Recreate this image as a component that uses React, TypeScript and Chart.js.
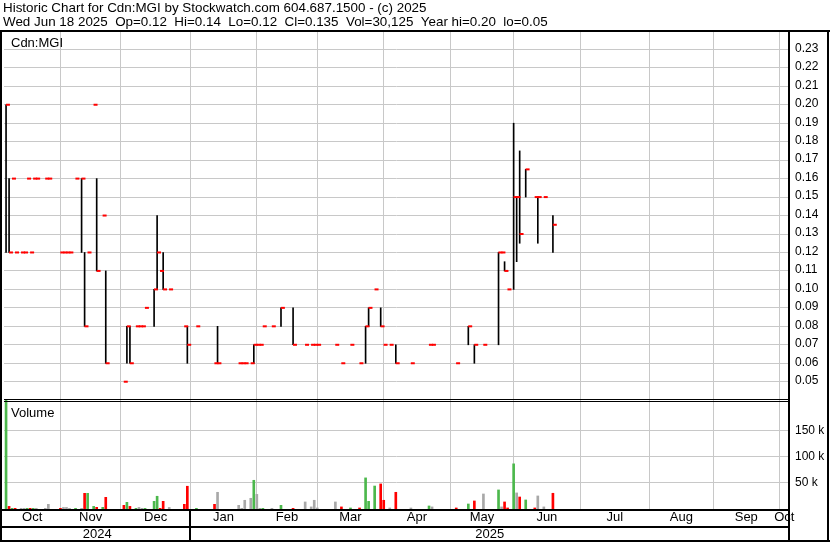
import React, { useEffect, useRef } from 'react';
import { Chart, registerables } from 'chart.js';

Chart.register(...registerables);

// ---------------- DATA ----------------
const dates = [
  '2024-10-08', '2024-10-09', '2024-10-10', '2024-10-11', '2024-10-15', '2024-10-16', '2024-10-17', '2024-10-18',
  '2024-10-21', '2024-10-22', '2024-10-25', '2024-10-28', '2024-11-01', '2024-11-04', '2024-11-05', '2024-11-06',
  '2024-11-08', '2024-11-12', '2024-11-13', '2024-11-14', '2024-11-18', '2024-11-19', '2024-11-21', '2024-11-22',
  '2024-12-02', '2024-12-03', '2024-12-04', '2024-12-06', '2024-12-09', '2024-12-10', '2024-12-11', '2024-12-16',
  '2024-12-17', '2024-12-18', '2024-12-19', '2024-12-23', '2024-12-30', '2024-12-31', '2025-01-03', '2025-01-13',
  '2025-01-14', '2025-01-23', '2025-01-24', '2025-01-27', '2025-01-29', '2025-01-30', '2025-01-31', '2025-02-03',
  '2025-02-04', '2025-02-07', '2025-02-12', '2025-02-18', '2025-02-24', '2025-02-26', '2025-02-27', '2025-02-28',
  '2025-03-10', '2025-03-12', '2025-03-17', '2025-03-20', '2025-03-24', '2025-03-25', '2025-03-27', '2025-03-31',
  '2025-04-01', '2025-04-03', '2025-04-07', '2025-04-14', '2025-04-22', '2025-04-23', '2025-05-05', '2025-05-09',
  '2025-05-13', '2025-05-16', '2025-05-23', '2025-05-26', '2025-05-27', '2025-05-28', '2025-05-30', '2025-06-02',
  '2025-06-03', '2025-06-05', '2025-06-10', '2025-06-11', '2025-06-13', '2025-06-18',
];
const highs = [
  0.20, 0.16, 0.16, 0.12, 0.12, 0.12, 0.16, 0.12,
  0.16, 0.16, 0.16, 0.16, 0.12, 0.12, 0.12, 0.12,
  0.16, 0.16, 0.12, 0.12, 0.20, 0.16, 0.14, 0.11,
  0.05, 0.08, 0.08, 0.08, 0.08, 0.08, 0.09, 0.10,
  0.14, 0.11, 0.12, 0.10, 0.08, 0.08, 0.08, 0.06,
  0.08, 0.06, 0.06, 0.06, 0.06, 0.07, 0.07, 0.07,
  0.08, 0.08, 0.09, 0.09, 0.07, 0.07, 0.07, 0.07,
  0.07, 0.06, 0.07, 0.06, 0.08, 0.09, 0.10, 0.09,
  0.07, 0.07, 0.07, 0.06, 0.07, 0.07, 0.06, 0.08,
  0.07, 0.07, 0.12, 0.12, 0.115, 0.10, 0.19, 0.15,
  0.175, 0.165, 0.15, 0.15, 0.15, 0.14,
];
const lows = [
  0.12, 0.12, 0.16, 0.12, 0.12, 0.12, 0.16, 0.12,
  0.16, 0.16, 0.16, 0.16, 0.12, 0.12, 0.12, 0.12,
  0.16, 0.12, 0.08, 0.12, 0.20, 0.11, 0.14, 0.06,
  0.05, 0.06, 0.06, 0.08, 0.08, 0.08, 0.09, 0.08,
  0.10, 0.11, 0.10, 0.10, 0.08, 0.06, 0.08, 0.06,
  0.06, 0.06, 0.06, 0.06, 0.06, 0.06, 0.07, 0.07,
  0.08, 0.08, 0.08, 0.07, 0.07, 0.07, 0.07, 0.07,
  0.07, 0.06, 0.07, 0.06, 0.06, 0.08, 0.10, 0.08,
  0.07, 0.07, 0.06, 0.06, 0.07, 0.07, 0.06, 0.07,
  0.06, 0.07, 0.07, 0.12, 0.11, 0.10, 0.10, 0.115,
  0.125, 0.15, 0.15, 0.125, 0.15, 0.12,
];
const closes = [
  0.20, 0.12, 0.16, 0.12, 0.12, 0.12, 0.16, 0.12,
  0.16, 0.16, 0.16, 0.16, 0.12, 0.12, 0.12, 0.12,
  0.16, 0.16, 0.08, 0.12, 0.20, 0.11, 0.14, 0.06,
  0.05, 0.08, 0.06, 0.08, 0.08, 0.08, 0.09, 0.10,
  0.12, 0.11, 0.10, 0.10, 0.08, 0.07, 0.08, 0.06,
  0.06, 0.06, 0.06, 0.06, 0.06, 0.07, 0.07, 0.07,
  0.08, 0.08, 0.09, 0.07, 0.07, 0.07, 0.07, 0.07,
  0.07, 0.06, 0.07, 0.06, 0.08, 0.09, 0.10, 0.08,
  0.07, 0.07, 0.06, 0.06, 0.07, 0.07, 0.06, 0.08,
  0.07, 0.07, 0.12, 0.12, 0.11, 0.10, 0.15, 0.15,
  0.13, 0.165, 0.15, 0.15, 0.15, 0.135,
];
const volumes = [
  260000, 5000, 1300, 1300, 1300, 1300, 1300, 1300,
  1300, 1300, 1300, 9000, 1300, 3000, 3000, 1300,
  1300, 1300, 30000, 30000, 5000, 3200, 3200, 22400,
  7000, 12800, 5000, 1300, 3000, 1300, 1300, 14700,
  24400, 1300, 14700, 3000, 9000, 43600, 1300, 9000,
  32000, 7000, 1300, 16700, 20500, 55000, 28000, 1300,
  1300, 1300, 7000, 1300, 13500, 4000, 16700, 2000,
  13500, 4000, 2000, 2000, 59600, 14700, 44000, 48000,
  16700, 2000, 32000, 2000, 5800, 4000, 2000, 9600,
  15400, 28800, 36500, 4000, 13500, 2000, 86500, 30800,
  23000, 17300, 2000, 25000, 4000, 30125,
];

const priceTicks = [0.05, 0.06, 0.07, 0.08, 0.09, 0.10, 0.11, 0.12, 0.13, 0.14, 0.15, 0.16, 0.17, 0.18, 0.19, 0.20, 0.21, 0.22, 0.23];
const volumeTicks = [50000, 100000, 150000];
const monthStarts = [
  '2024-10-01', '2024-11-01', '2024-12-01', '2025-01-01', '2025-02-01', '2025-03-01', '2025-04-01',
  '2025-05-01', '2025-06-01', '2025-07-01', '2025-08-01', '2025-09-01', '2025-10-01', '2025-11-01',
];
const monthLabels = ['Oct', 'Nov', 'Dec', 'Jan', 'Feb', 'Mar', 'Apr', 'May', 'Jun', 'Jul', 'Aug', 'Sep', 'Oct'];
const yearBreaks = ['2025-01-01'];
const yearLabels = ['2024', '2025'];

const titleLines = [
  'Historic Chart for Cdn:MGI by Stockwatch.com 604.687.1500 - (c) 2025',
  'Wed Jun 18 2025  Op=0.12  Hi=0.14  Lo=0.12  Cl=0.135  Vol=30,125  Year hi=0.20  lo=0.05',
];
const symbolLabel = 'Cdn:MGI';
const volumeLabel = 'Volume';

// ---------------- VIEW SETTINGS ----------------
const X_MIN = 4.32;
const X_MAX = 264.14;
const CLOSE_TICK_OFFSET = 0.62;
const FONT = 'Arial, "Liberation Sans", sans-serif';
const GRID = '#c8c8c8';
const UP = '#4cb84c';
const DOWN = '#ff0000';
const FLAT = '#a8a8a8';

// weekday index counted from 2024-10-01; weekend dates fall back to the previous Friday
function weekdayIndex(s: string): number {
  const origin = Date.UTC(2024, 9, 1);
  const [y, m, d] = s.split('-').map(Number);
  const t = Date.UTC(y, m - 1, d);
  let count = 0;
  for (let u = origin; u <= t; u += 86400000) {
    const wd = new Date(u).getUTCDay();
    if (wd !== 0 && wd !== 6) count++;
  }
  return count - 1;
}

const xs = dates.map(weekdayIndex);
const monthBounds = monthStarts.map(weekdayIndex);
const gridTicks = monthBounds.filter((v) => v > X_MIN && v < X_MAX);
const monthCenters = monthLabels.map((_, i) => {
  const a = Math.max(monthBounds[i], X_MIN);
  const b = Math.min(monthBounds[i + 1], X_MAX);
  return (a + b) / 2;
});
const yearBounds = [X_MIN, ...yearBreaks.map(weekdayIndex), X_MAX];
const yearCenters = yearLabels.map((_, i) => (yearBounds[i] + yearBounds[i + 1]) / 2);

const volColors = closes.map((c, i) => (i === 0 ? UP : c > closes[i - 1] ? UP : c < closes[i - 1] ? DOWN : FLAT));

const clipVolume = {
  id: 'clipVolume',
  beforeDatasetDraw(chart: any, args: any) {
    if (args.meta.yAxisID !== 'yv') return;
    const s = chart.scales.yv;
    const a = chart.chartArea;
    const ctx = chart.ctx;
    ctx.save();
    ctx.beginPath();
    ctx.rect(a.left, s.top, a.right - a.left, s.bottom - s.top);
    ctx.clip();
  },
  afterDatasetDraw(chart: any, args: any) {
    if (args.meta.yAxisID !== 'yv') return;
    chart.ctx.restore();
  },
};

const frame = {
  id: 'frame',
  afterDraw(chart: any) {
    const ctx = chart.ctx;
    const a = chart.chartArea;
    const W = chart.width;
    const H = chart.height;
    const top = a.top - 2;
    ctx.save();
    ctx.fillStyle = '#000';
    ctx.fillRect(0, top, W, 2);
    ctx.fillRect(0, top, 2, H - top - 1);
    ctx.fillRect(W - 3, top, 2, H - top - 1);
    ctx.fillRect(a.right - 1, top, 2, H - top - 1);
    const pb = chart.scales.y.bottom;
    ctx.fillRect(a.left, pb - 1, a.right - a.left, 1);
    ctx.fillRect(a.left, pb + 1, a.right - a.left, 1);
    ctx.fillRect(0, a.bottom, a.right, 2);
    ctx.fillRect(0, chart.scales.xy.top, a.right, 2);
    ctx.fillRect(0, H - 3, W, 2);
    yearBreaks.forEach((d) => {
      const px = Math.round(chart.scales.x.getPixelForValue(weekdayIndex(d)));
      ctx.fillRect(px - 1, a.bottom, 2, H - a.bottom - 2);
    });
    ctx.font = `13px ${FONT}`;
    ctx.textBaseline = 'alphabetic';
    ctx.textAlign = 'left';
    ctx.fillText(symbolLabel, a.left + 7, chart.scales.y.top + 15);
    ctx.fillText(volumeLabel, a.left + 7, chart.scales.yv.top + 17);
    ctx.restore();
  },
};

export default function App() {
  const ref = useRef<HTMLCanvasElement>(null);
  useEffect(() => {
    document.body.style.margin = '0';
    Chart.defaults.font.family = FONT;
    Chart.defaults.color = '#000';
    const hl = xs
      .map((x, i) => ({ x, y: [lows[i], highs[i]] }))
      .filter((p) => p.y[1] > p.y[0]);
    const chart = new Chart(ref.current as HTMLCanvasElement, {
      type: 'bar',
      data: {
        datasets: [
          {
            type: 'bar',
            data: hl as any,
            xAxisID: 'x',
            yAxisID: 'y',
            backgroundColor: '#000',
            borderWidth: 0,
            barThickness: 1,
            grouped: false,
            order: 2,
          } as any,
          {
            type: 'scatter',
            data: xs.map((x, i) => ({ x: x + CLOSE_TICK_OFFSET, y: closes[i] })),
            xAxisID: 'x',
            yAxisID: 'y',
            pointStyle: 'line',
            pointRadius: 2,
            pointHoverRadius: 2,
            pointBorderWidth: 2,
            pointBorderColor: '#ff0000',
            borderColor: '#ff0000',
            showLine: false,
            order: 1,
          } as any,
          {
            type: 'bar',
            data: xs.map((x, i) => ({ x, y: volumes[i] })),
            xAxisID: 'x',
            yAxisID: 'yv',
            backgroundColor: volColors,
            borderWidth: 0,
            barThickness: 2,
            grouped: false,
            order: 3,
          } as any,
        ],
      },
      options: {
        animation: false,
        responsive: false,
        devicePixelRatio: 1,
        events: [],
        layout: { padding: { left: 3, right: 0, top: 0, bottom: 0 } },
        plugins: {
          legend: { display: false },
          tooltip: { enabled: false },
          title: {
            display: true,
            align: 'start',
            text: titleLines,
            color: '#000',
            font: { size: 13.4, weight: 'normal', lineHeight: '14px', family: FONT },
            padding: { top: 1, bottom: 3 },
          },
        },
        scales: {
          x: {
            type: 'linear',
            position: 'bottom',
            min: X_MIN,
            max: X_MAX,
            offset: false,
            grid: { display: true, color: GRID, lineWidth: 1, drawTicks: false, offset: false },
            border: { display: false },
            ticks: { display: false },
            afterBuildTicks: (s: any) => { s.ticks = gridTicks.map((v) => ({ value: v })); },
            afterFit: (s: any) => { s.height = 0; },
          },
          xm: {
            type: 'linear',
            position: 'bottom',
            min: X_MIN,
            max: X_MAX,
            offset: false,
            grid: { display: false, drawTicks: false, offset: false },
            border: { display: false },
            ticks: {
              autoSkip: false,
              maxRotation: 0,
              padding: 1,
              color: '#000',
              font: { size: 13, family: FONT },
              callback: (_v: any, i: number) => monthLabels[i],
            },
            afterBuildTicks: (s: any) => { s.ticks = monthCenters.map((v) => ({ value: v })); },
            afterFit: (s: any) => { s.height = 17; },
          },
          xy: {
            type: 'linear',
            position: 'bottom',
            min: X_MIN,
            max: X_MAX,
            offset: false,
            grid: { display: false, drawTicks: false, offset: false },
            border: { display: false },
            ticks: {
              autoSkip: false,
              maxRotation: 0,
              padding: 1,
              color: '#000',
              font: { size: 13, family: FONT },
              callback: (_v: any, i: number) => yearLabels[i],
            },
            afterBuildTicks: (s: any) => { s.ticks = yearCenters.map((v) => ({ value: v })); },
            afterFit: (s: any) => { s.height = 17; },
          },
          y: {
            type: 'linear',
            position: 'right',
            stack: 'panels',
            stackWeight: 368,
            min: 0.0401,
            max: 0.2394,
            beginAtZero: false,
            grid: { color: GRID, lineWidth: 1, drawTicks: false },
            border: { display: false },
            ticks: {
              autoSkip: false,
              padding: 6,
              labelOffset: -1,
              color: '#000',
              font: { size: 12, family: FONT },
              callback: (v: any) => Number(v).toFixed(2),
            },
            afterBuildTicks: (s: any) => { s.ticks = priceTicks.map((v) => ({ value: v })); },
            afterFit: (s: any) => { s.width = 41; },
          },
          yv: {
            type: 'linear',
            position: 'right',
            stack: 'panels',
            stackWeight: 109,
            min: 0,
            max: 208800,
            grid: { color: GRID, lineWidth: 1, drawTicks: false },
            border: { display: false },
            ticks: {
              autoSkip: false,
              padding: 6,
              color: '#000',
              font: { size: 12, family: FONT },
              callback: (v: any) => `${Number(v) / 1000} k`,
            },
            afterBuildTicks: (s: any) => { s.ticks = volumeTicks.map((v) => ({ value: v })); },
            afterFit: (s: any) => { s.width = 41; },
          },
        },
      } as any,
      plugins: [clipVolume, frame],
    });
    return () => chart.destroy();
  }, []);
  return <canvas ref={ref} width={830} height={543} style={{ display: 'block' }} />;
}
